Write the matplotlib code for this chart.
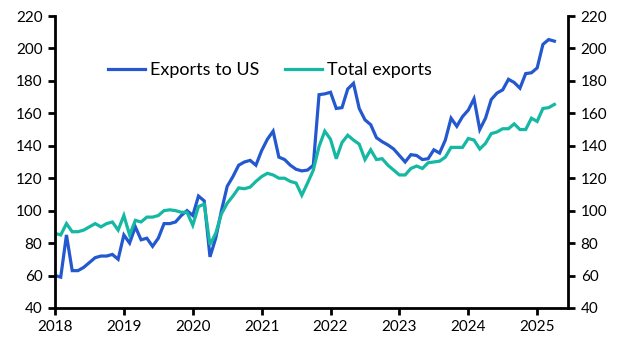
import matplotlib
matplotlib.use("Agg")
import matplotlib.pyplot as plt
import numpy as np

plt.rcParams['font.family'] = ['Lato', 'DejaVu Sans']

start_year = 2018
exports_us = [
    60, 59, 85, 63, 63, 65, 68, 71, 72, 72, 73, 70,            # 2018
    85, 80, 90, 82, 83, 78, 83, 92, 92, 93, 97, 100,           # 2019
    97, 109, 106, 71.5, 83, 100, 115, 121, 128, 130, 131, 128, # 2020
    137, 144, 149, 133, 131.5, 128, 125.5, 124.5, 125, 128, 171.5, 172,  # 2021
    173, 163, 163.5, 175, 178.5, 163, 156, 153, 145, 142.5, 140.5, 138,  # 2022
    134, 130, 134.5, 134, 131.5, 132, 137.5, 135.5, 143.5, 157, 152, 158,  # 2023
    162, 169, 150, 157, 168.5, 172.5, 174.5, 181, 179, 175.5, 184.5, 185,  # 2024
    188, 202.5, 205.5, 204.5,                                    # 2025
]
total_exports = [
    86, 85, 92, 87, 87, 88, 90, 92, 90, 92, 93, 88,
    97, 85, 94, 93, 96, 96, 97, 100, 100.5, 100, 99, 99,
    91, 102.5, 104, 79, 86, 98, 104.5, 109, 114, 113.5, 114.5, 118,
    121, 123, 122, 120, 120, 118, 117, 109.5, 117, 125, 139.5, 149,
    144, 132, 142, 146.5, 143.5, 141, 131.5, 137.5, 131.5, 132, 128, 125,
    122, 122, 126, 127.5, 126, 129.5, 130, 130.5, 133, 139, 139, 139,
    144.5, 143.5, 138, 141.5, 147.5, 148.5, 150.5, 150.5, 153.5, 150, 150, 157,
    155, 163, 163.5, 165.5,
]
series_labels = ["Exports to US", "Total exports"]
year_ticks = [2018, 2019, 2020, 2021, 2022, 2023, 2024, 2025]
y_ticks = [40, 60, 80, 100, 120, 140, 160, 180, 200, 220]

x = start_year + np.arange(len(exports_us)) / 12.0

fig = plt.figure(figsize=(6.32, 3.56), dpi=100)
ax = fig.add_axes([0.087, 0.135, 0.812, 0.82])

blue = "#2358cf"
teal = "#15b8a2"
ax.plot(x, exports_us, color=blue, lw=2.3, label=series_labels[0], solid_joinstyle='miter')
ax.plot(x, total_exports, color=teal, lw=2.3, label=series_labels[1], solid_joinstyle='miter')

ax.set_xlim(2018, 2025.45)
ax.set_ylim(40, 220)
ax.set_xticks(year_ticks)
ax.set_xticklabels([str(y) for y in year_ticks])
ax.set_yticks(y_ticks)

ax.spines['top'].set_visible(False)
for s in ['left', 'right', 'bottom']:
    ax.spines[s].set_linewidth(2.0)
    ax.spines[s].set_color('black')

ax.tick_params(axis='both', which='both', direction='out', length=5, width=2,
               labelsize=11, colors='black')
ax.tick_params(axis='y', left=True, right=True, labelleft=True, labelright=True, pad=4)
ax.tick_params(axis='x', pad=4)

ax.legend(loc='center', bbox_to_anchor=(0.419, 0.815), ncol=2, frameon=False,
          fontsize=13, handlelength=2.05, columnspacing=1.4, handletextpad=0.3)

fig.savefig("out.png", dpi=100)
